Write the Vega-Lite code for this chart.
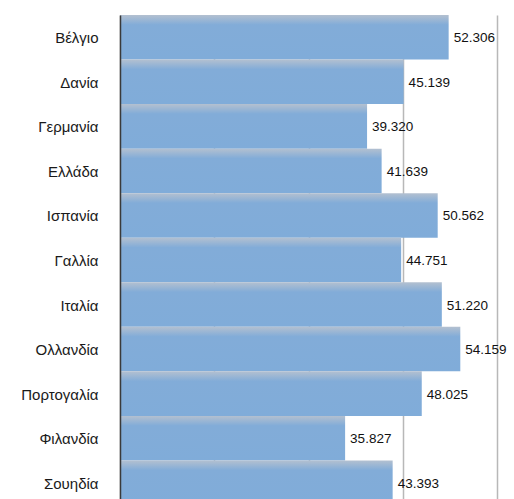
{
  "$schema": "https://vega.github.io/schema/vega-lite/v6.json",
  "autosize": "none",
  "width": 377,
  "height": 490,
  "padding": {"left": 120, "top": 15, "right": 17, "bottom": 0},
  "background": "white",
  "config": {"view": {"stroke": null}},
  "data": {
    "values": [
      {"country": "Βέλγιο", "value": 52.306, "label": "52.306"},
      {"country": "Δανία", "value": 45.139, "label": "45.139"},
      {"country": "Γερμανία", "value": 39.320, "label": "39.320"},
      {"country": "Ελλάδα", "value": 41.639, "label": "41.639"},
      {"country": "Ισπανία", "value": 50.562, "label": "50.562"},
      {"country": "Γαλλία", "value": 44.751, "label": "44.751"},
      {"country": "Ιταλία", "value": 51.220, "label": "51.220"},
      {"country": "Ολλανδία", "value": 54.159, "label": "54.159"},
      {"country": "Πορτογαλία", "value": 48.025, "label": "48.025"},
      {"country": "Φιλανδία", "value": 35.827, "label": "35.827"},
      {"country": "Σουηδία", "value": 43.393, "label": "43.393"}
    ]
  },
  "encoding": {
    "y": {
      "field": "country",
      "type": "nominal",
      "sort": null,
      "scale": {"paddingInner": 0, "paddingOuter": 0},
      "axis": {
        "title": null,
        "ticks": false,
        "labelPadding": 22,
        "labelFont": "Liberation Sans",
        "labelFontSize": 15,
        "labelColor": "#1a1a1a",
        "labelOffset": 1,
        "domainColor": "#3a3a3a",
        "domainWidth": 1.5,
        "zindex": 1
      }
    },
    "x": {
      "field": "value",
      "type": "quantitative",
      "scale": {"domain": [0, 60], "nice": false},
      "axis": {
        "title": null,
        "labels": false,
        "ticks": false,
        "domain": false,
        "values": [0, 15, 30, 45, 60],
        "gridColor": "#b8b8b8",
        "gridWidth": 1.5,
        "orient": "bottom"
      }
    }
  },
  "layer": [
    {
      "mark": {
        "type": "bar",
        "color": {
          "gradient": "linear",
          "x1": 0, "y1": 0, "x2": 0, "y2": 1,
          "stops": [
            {"offset": 0, "color": "#b3c0d0"},
            {"offset": 0.22, "color": "#82acd8"},
            {"offset": 1, "color": "#80acd9"}
          ]
        }
      }
    },
    {
      "mark": {"type": "text", "align": "left", "baseline": "middle", "dx": 5, "dy": 1, "font": "Liberation Sans", "fontSize": 13.5, "color": "#111111"},
      "encoding": {"text": {"field": "label"}}
    }
  ]
}
